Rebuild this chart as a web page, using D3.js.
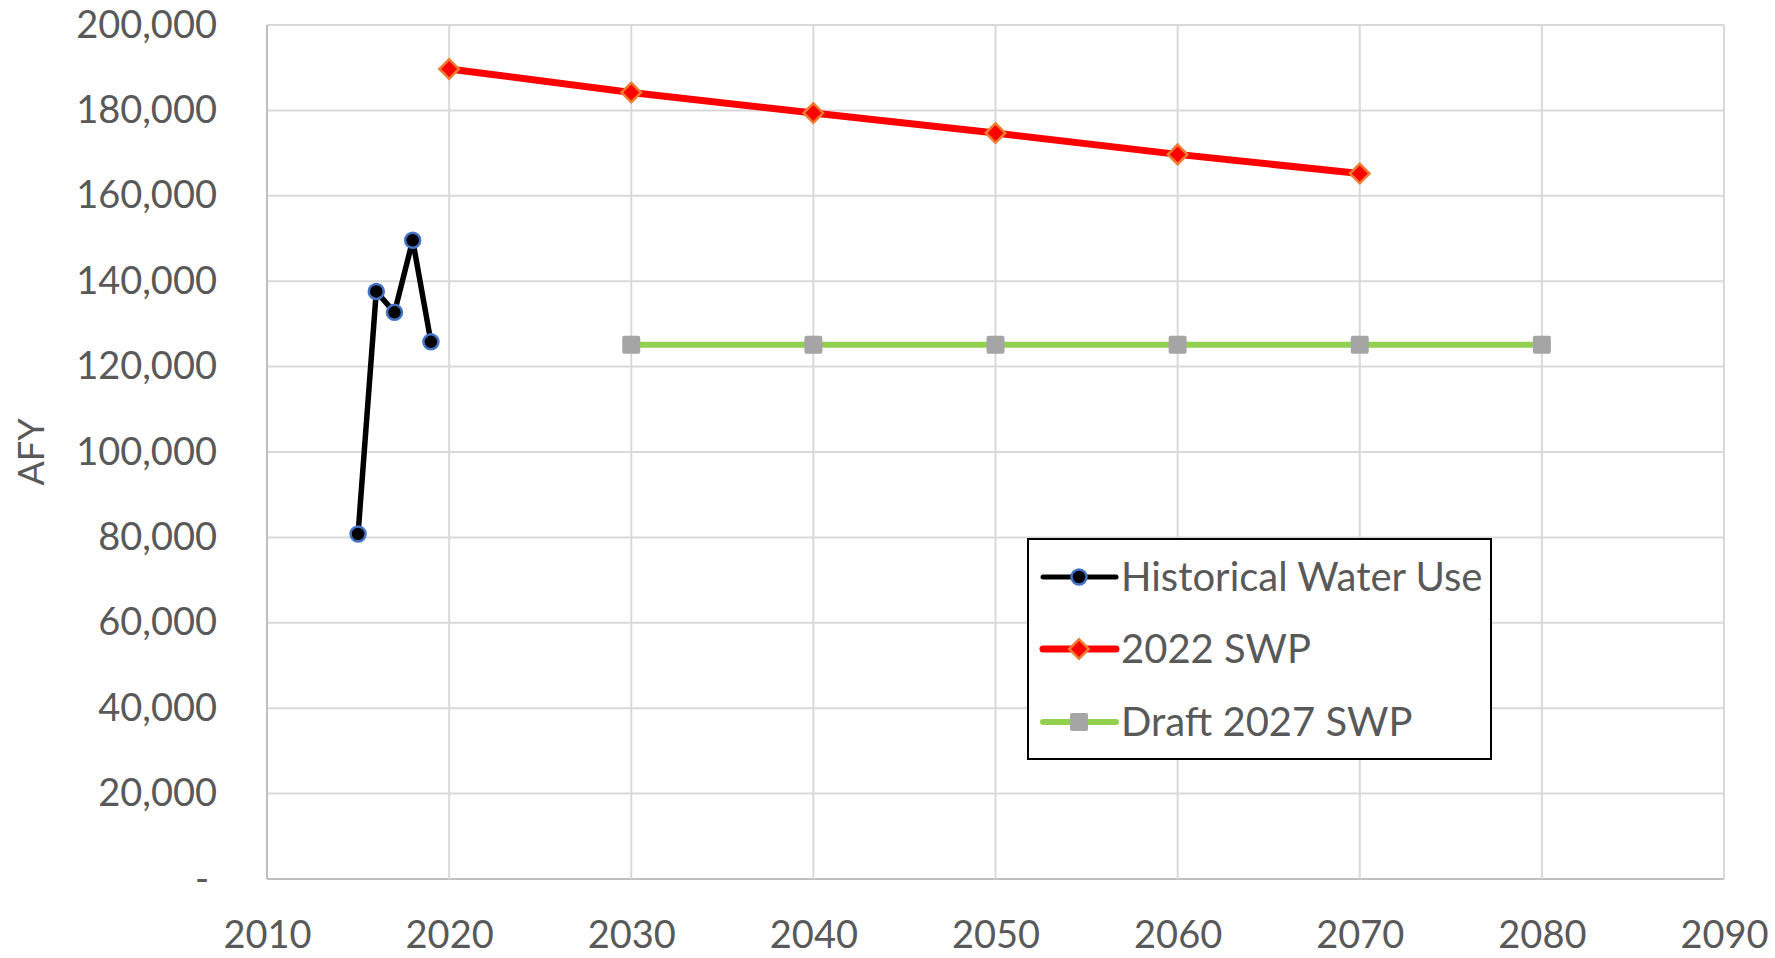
<!DOCTYPE html>
<html>
<head>
<meta charset="utf-8">
<script src="https://cdn.jsdelivr.net/npm/d3@7"></script>
<style>
  body { margin: 0; background: #fff; }
  svg text { font-family: Lato, "Open Sans", sans-serif; fill: #595959; }
</style>
</head>
<body>
<div id="chart"></div>
<script>
// Data
const histYears = [2015, 2016, 2017, 2018, 2019];
const histValues = [80800, 137600, 132700, 149600, 125800];

const swp2022Years = [2020, 2030, 2040, 2050, 2060, 2070];
const swp2022Values = [189700, 184200, 179400, 174700, 169700, 165200];

const draft2027Years = [2030, 2040, 2050, 2060, 2070, 2080];
const draft2027Values = [125100, 125100, 125100, 125100, 125100, 125100];

const xTicks = [2010, 2020, 2030, 2040, 2050, 2060, 2070, 2080, 2090];
const yTicks = [0, 20000, 40000, 60000, 80000, 100000, 120000, 140000, 160000, 180000, 200000];
const legendLabels = ['Historical Water Use', '2022 SWP', 'Draft 2027 SWP'];

const width = 1775, height = 958;
const margin = { top: 25, right: 51, bottom: 79, left: 267 };
const chartWidth = width - margin.left - margin.right;
const chartHeight = height - margin.top - margin.bottom;

const svg = d3.select('#chart').append('svg')
    .attr('width', width)
    .attr('height', height);

const g = svg.append('g')
    .attr('transform', `translate(${margin.left},${margin.top})`);

const x = d3.scaleLinear().domain([2010, 2090]).range([0, chartWidth]);
const y = d3.scaleLinear().domain([0, 200000]).range([chartHeight, 0]);

// Grid
g.append('g')
    .selectAll('line.hgrid')
    .data(yTicks)
    .join('line')
    .attr('x1', 0).attr('x2', chartWidth)
    .attr('y1', d => y(d)).attr('y2', d => y(d))
    .attr('stroke', d => d === 0 ? '#bfbfbf' : '#d9d9d9')
    .attr('stroke-width', 2);

g.append('g')
    .selectAll('line.vgrid')
    .data(xTicks)
    .join('line')
    .attr('x1', d => x(d)).attr('x2', d => x(d))
    .attr('y1', 0).attr('y2', chartHeight)
    .attr('stroke', d => d === 2010 ? '#bfbfbf' : '#d9d9d9')
    .attr('stroke-width', 2);

// Axes labels
const yAxis = d3.axisLeft(y)
    .tickValues(yTicks)
    .tickSize(0)
    .tickPadding(50)
    .tickFormat(d => d === 0 ? '-' : d3.format(',')(d));

g.append('g')
    .call(yAxis)
    .call(s => s.select('.domain').remove())
    .selectAll('text')
    .attr('font-size', 38)
    .style('font-family', 'Lato, sans-serif')
    .attr('fill', '#595959')
    .attr('dx', d => d === 0 ? -8 : 0);

const xAxis = d3.axisBottom(x)
    .tickValues(xTicks)
    .tickSize(0)
    .tickPadding(42)
    .tickFormat(d3.format('d'));

g.append('g')
    .attr('transform', `translate(0,${chartHeight})`)
    .call(xAxis)
    .call(s => s.select('.domain').remove())
    .selectAll('text')
    .attr('font-size', 38)
    .style('font-family', 'Lato, sans-serif')
    .attr('fill', '#595959');

// Y axis title
svg.append('text')
    .attr('transform', `translate(44,${margin.top + chartHeight / 2}) rotate(-90)`)
    .attr('text-anchor', 'middle')
    .attr('font-size', 36)
    .text('AFY');

// Lines
const line = d3.line()
    .x(d => x(d[0]))
    .y(d => y(d[1]));

const hist = histYears.map((d, i) => [d, histValues[i]]);
const swp22 = swp2022Years.map((d, i) => [d, swp2022Values[i]]);
const draft27 = draft2027Years.map((d, i) => [d, draft2027Values[i]]);

const diamondPath = d3.symbol().type(d3.symbolSquare).size(190);

g.append('path').datum(draft27)
    .attr('d', line).attr('fill', 'none')
    .attr('stroke', '#92d050').attr('stroke-width', 6);

g.selectAll('.sq').data(draft27).join('rect')
    .attr('x', d => x(d[0]) - 9).attr('y', d => y(d[1]) - 9)
    .attr('width', 18).attr('height', 18).attr('rx', 2)
    .attr('fill', '#a5a5a5');

g.append('path').datum(swp22)
    .attr('d', line).attr('fill', 'none')
    .attr('stroke', '#ff0000').attr('stroke-width', 7);

g.selectAll('.dm').data(swp22).join('path')
    .attr('transform', d => `translate(${x(d[0])},${y(d[1])}) rotate(45)`)
    .attr('d', diamondPath)
    .attr('fill', '#ff0000')
    .attr('stroke', '#ed7d31').attr('stroke-width', 2.5);

g.append('path').datum(hist)
    .attr('d', line).attr('fill', 'none')
    .attr('stroke', '#000').attr('stroke-width', 5.5)
    .attr('stroke-linejoin', 'round');

g.selectAll('.ci').data(hist).join('circle')
    .attr('cx', d => x(d[0])).attr('cy', d => y(d[1]))
    .attr('r', 7.5)
    .attr('fill', '#000')
    .attr('stroke', '#4472c4').attr('stroke-width', 2.5);

// Legend
const legend = svg.append('g').attr('transform', 'translate(1028,539)');
legend.append('rect')
    .attr('width', 463).attr('height', 220)
    .attr('fill', '#fff')
    .attr('stroke', '#000').attr('stroke-width', 2);

const rowY = [38, 110, 183];
const items = legend.selectAll('.item').data(legendLabels).join('g')
    .attr('transform', (d, i) => `translate(0,${rowY[i]})`);

items.append('line')
    .attr('x1', 15).attr('x2', 88)
    .attr('stroke', (d, i) => ['#000', '#ff0000', '#92d050'][i])
    .attr('stroke-width', (d, i) => [5, 7, 6][i])
    .attr('stroke-linecap', 'round');

items.each(function(d, i) {
    const it = d3.select(this);
    if (i === 0) {
        it.append('circle').attr('cx', 51).attr('r', 7.5)
            .attr('fill', '#000').attr('stroke', '#4472c4').attr('stroke-width', 2.5);
    } else if (i === 1) {
        it.append('path')
            .attr('transform', 'translate(51,0) rotate(45)')
            .attr('d', diamondPath)
            .attr('fill', '#ff0000').attr('stroke', '#ed7d31').attr('stroke-width', 2.5);
    } else {
        it.append('rect').attr('x', 42).attr('y', -9)
            .attr('width', 18).attr('height', 18).attr('rx', 2)
            .attr('fill', '#a5a5a5');
    }
});

items.append('text')
    .attr('x', 93)
    .attr('dy', '0.35em')
    .attr('font-size', 40)
    .text(d => d);
</script>
</body>
</html>
